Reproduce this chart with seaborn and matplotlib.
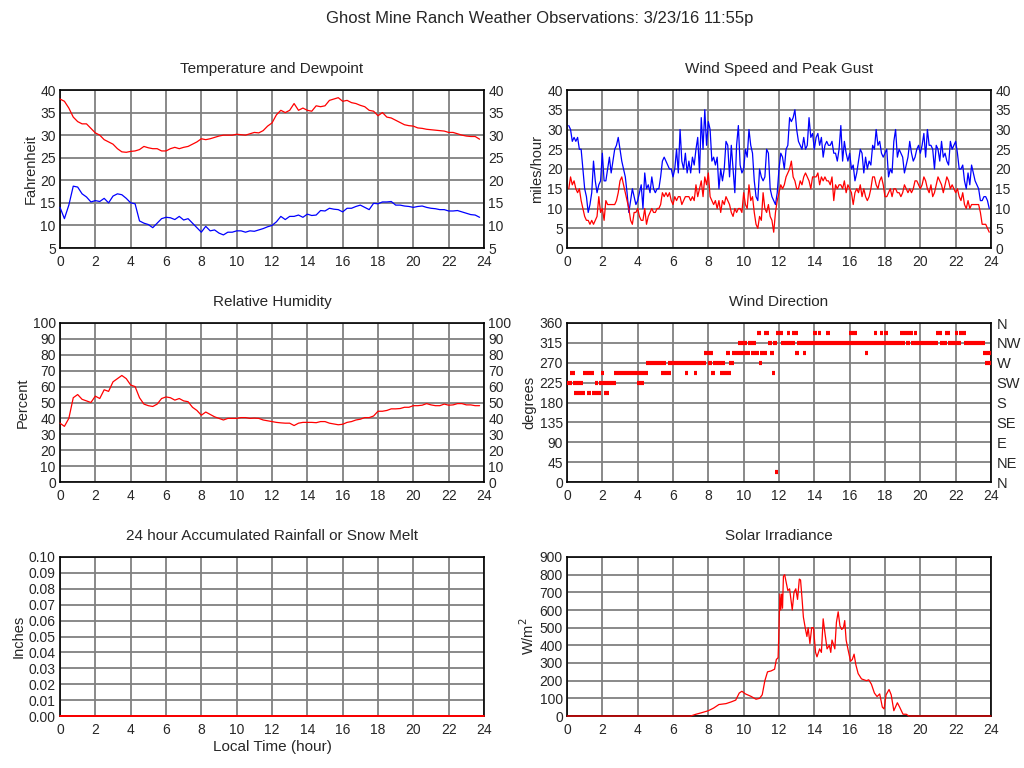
import numpy as np
import matplotlib
matplotlib.use("Agg")
import matplotlib.pyplot as plt
import seaborn as sns


TITLE = "Ghost Mine Ranch Weather Observations: 3/23/16 11:55p"

# quarter-hour samples for temperature, dewpoint and humidity
hours_q = np.arange(0, 24, 0.25)

temp_f = [38, 37.5, 36, 34, 33, 32.5, 32.5, 31.5, 30.5, 30, 29, 28.5,
          28, 27, 26.3, 26.2, 26.4, 26.5, 26.8, 27.5, 27.2, 27, 27, 26.5,
          26.5, 27, 27.3, 27, 27.3, 27.5, 28, 28.5, 29.2, 29, 29.2, 29.5,
          29.8, 30, 30, 30, 30.2, 30.1, 30, 30.3, 30.6, 30.5, 31, 32,
          32.7, 34.5, 35.5, 35, 35.5, 37, 35.5, 36, 35.5, 35.3, 36.5, 36.3,
          36.5, 37.7, 38, 38.3, 37.5, 37.7, 37.2, 37, 36.6, 36.3, 35.5, 35.3,
          34.3, 35, 34, 33.8, 33.3, 32.8, 32.3, 32.1, 32, 31.6, 31.5, 31.3,
          31.2, 31.1, 31, 30.9, 30.6, 30.6, 30.3, 30, 29.8, 29.7, 29.7, 29.1]

dew_f = [14, 11.5, 14.5, 18.7, 18.5, 17, 16.3, 15.2, 15.5, 15.3, 16, 15,
         16.5, 17, 16.8, 16, 15, 14.8, 11, 10.5, 10.2, 9.5, 10.5, 11.5,
         11.8, 11.7, 11.3, 12, 11.2, 11.5, 10.5, 9.5, 8.5, 9.8, 8.8, 9,
         8.3, 7.9, 8.5, 8.5, 8.8, 8.8, 8.5, 8.8, 8.7, 9, 9.3, 9.7,
         10, 10.8, 12, 11.3, 12, 12, 12.3, 11.8, 12.5, 12.2, 12.3, 13.3,
         13.2, 13.8, 13.6, 13.5, 13, 13.8, 13.8, 14.2, 14.5, 14, 13.5, 14.9,
         14.8, 15.2, 15.2, 15.3, 14.5, 14.5, 14.3, 14.2, 14, 14.2, 14.3, 14,
         13.8, 13.7, 13.5, 13.5, 13.2, 13.2, 13.3, 13, 12.7, 12.4, 12.3, 11.8]

humidity = [37, 35, 40, 53, 55, 52, 51, 50, 54, 52.5, 58, 57,
            63, 65, 67, 65, 61, 60, 53, 49, 48, 47.5, 49, 52.5,
            53.5, 53, 51.5, 52.5, 51, 50.5, 47, 45, 42, 44, 42.5, 41,
            40, 39, 40, 40, 40, 40.5, 40.5, 40, 40.2, 40, 39, 38.5,
            38, 37.5, 37.2, 37, 37, 35.5, 37, 37.5, 37.5, 37.5, 37.3, 38,
            38, 37, 36.5, 36, 36.3, 37.5, 38, 39, 39.5, 40.5, 40.5, 41.5,
            44.5, 44.5, 45, 46, 46, 46.2, 47, 47, 48, 48, 48.3, 49.3,
            48.5, 48, 48, 49, 48.3, 48.5, 49.3, 49.3, 48.5, 48.5, 48, 48]

# six-minute samples for wind, 0.1 .. 23.9 h
hours_w = np.round(np.arange(1, 240) * 0.1, 1)

gust_mph = [31, 30, 27, 28, 27, 28, 25, 25, 20, 15,
            13, 9, 11, 14, 22, 17, 14, 16, 17, 24,
            17, 17, 20, 23, 19, 22, 25, 26, 28, 25,
            22, 20, 18, 14, 9, 12, 15, 13, 11, 12,
            14, 16, 10, 19, 15, 16, 14, 18, 15, 14,
            15, 15, 18, 22, 23, 22, 21, 20, 20, 18,
            20, 25, 19, 30, 22, 20, 24, 19, 22, 19,
            23, 21, 25, 28, 19, 33, 25, 35, 26, 32,
            30, 22, 23, 21, 23, 15, 20, 17, 20, 27,
            26, 18, 26, 20, 14, 26, 31, 21, 19, 20,
            25, 23, 30, 26, 24, 17, 13, 12, 20, 18,
            17, 18, 25, 24, 15, 13, 12, 11, 14, 20,
            24, 23, 20, 25, 26, 33, 32, 33, 35, 30,
            27, 26, 25, 28, 25, 26, 33, 28, 29, 25,
            28, 29, 26, 28, 23, 26, 27, 26, 26, 27,
            24, 24, 22, 25, 31, 22, 27, 24, 22, 24,
            20, 21, 17, 19, 22, 25, 24, 19, 23, 20,
            22, 21, 26, 25, 30, 26, 27, 24, 23, 24,
            25, 18, 20, 19, 27, 30, 23, 25, 24, 23,
            19, 21, 23, 27, 24, 22, 23, 25, 26, 24,
            26, 29, 23, 30, 26, 26, 25, 20, 26, 25,
            22, 27, 23, 24, 22, 21, 27, 25, 26, 27,
            24, 20, 20, 21, 17, 15, 19, 16, 21, 19,
            17, 16, 15, 12, 12, 13, 13, 12, 10]

speed_mph = [15, 18, 16, 17, 15, 14, 15, 12, 10, 8,
             7, 7, 6, 7, 6, 7, 8, 13, 9, 10,
             7, 12, 11, 11, 11, 11, 11, 12, 14, 17,
             18, 16, 14, 12, 10, 7, 6, 9, 9, 10,
             8, 7, 7, 10, 6, 8, 9, 10, 9, 9,
             10, 10, 11, 14, 13, 14, 13, 14, 12, 11,
             13, 12, 13, 13, 11, 12, 13, 13, 13, 12,
             13, 12, 16, 13, 15, 17, 13, 18, 16, 19,
             13, 12, 11, 12, 10, 12, 9, 12, 11, 13,
             12, 11, 9, 8, 10, 9, 10, 10, 9, 14,
             11, 10, 16, 12, 13, 9, 6, 5, 8, 7,
             14, 10, 9, 11, 8, 7, 4, 9, 12, 14,
             16, 15, 16, 18, 19, 20, 22, 18, 17, 15,
             15, 17, 16, 18, 19, 18, 17, 15, 18, 18,
             18, 19, 16, 18, 17, 18, 17, 17, 16, 18,
             12, 16, 15, 16, 16, 15, 17, 14, 16, 15,
             14, 11, 14, 15, 14, 16, 13, 15, 13, 12,
             13, 15, 18, 18, 16, 15, 17, 18, 16, 13,
             13, 14, 15, 13, 15, 15, 14, 14, 13, 14,
             16, 15, 14, 15, 14, 15, 17, 17, 16, 15,
             16, 18, 17, 15, 14, 16, 13, 14, 16, 18,
             17, 16, 14, 16, 18, 17, 15, 16, 15, 14,
             15, 13, 12, 14, 11, 10, 12, 10, 11, 11,
             11, 11, 11, 9, 6, 6, 6, 5, 4]

# wind direction runs: direction (deg), start hour, end hour
dir_deg = [202.5, 202.5, 202.5, 202.5,
           225, 225, 225, 225, 225,
           247.5, 247.5, 247.5, 247.5, 247.5, 247.5, 247.5, 247.5, 247.5, 247.5,
           270, 270, 270, 270, 270, 270, 270,
           292.5, 292.5, 292.5, 292.5, 292.5, 292.5, 292.5, 292.5, 292.5, 292.5,
           315, 315, 315, 315, 315, 315, 315, 315, 315, 315, 315, 315,
           337.5, 337.5, 337.5, 337.5, 337.5, 337.5, 337.5, 337.5, 337.5,
           337.5, 337.5, 337.5, 337.5, 337.5, 337.5, 337.5, 337.5, 337.5,
           22.5]
dir_start = [0.4, 1.13, 1.42, 2.09,
             0.0, 0.36, 1.58, 1.81, 3.98,
             0.17, 0.9, 1.92, 2.66, 5.32, 6.68, 7.19, 8.15, 8.66, 11.6,
             4.47, 5.72, 7.98, 8.26, 9.17, 10.87, 23.66,
             7.75, 9.0, 9.34, 10.42, 10.92, 11.5, 12.9, 13.36, 16.85, 23.55,
             9.68, 9.92, 10.25, 11.38, 11.66, 12.11, 13.02, 19.19, 19.47, 21.11, 21.57, 22.47,
             10.75, 11.15, 11.83, 12.45, 12.74, 13.92, 14.2, 14.66, 15.96,
             17.38, 17.72, 17.94, 18.85, 19.64, 20.89, 21.4, 21.96, 22.19,
             11.8]
dir_end = [1.02, 1.36, 1.92, 2.38,
           0.28, 0.9, 1.75, 2.77, 4.36,
           0.45, 1.53, 2.09, 4.58, 5.89, 6.85, 7.36, 8.38, 9.28, 11.77,
           5.6, 7.87, 8.2, 8.94, 9.45, 11.04, 24.0,
           8.26, 9.23, 10.36, 10.87, 11.32, 11.7, 13.13, 13.53, 17.02, 24.0,
           9.88, 10.19, 10.7, 11.6, 11.89, 12.91, 19.13, 19.42, 21.0, 21.51, 22.3, 23.66,
           10.98, 11.43, 12.23, 12.62, 13.08, 14.15, 14.38, 14.89, 16.42,
           17.55, 17.89, 18.17, 19.58, 19.81, 21.23, 21.68, 22.13, 22.58,
           11.92]
compass = ["N", "NE", "E", "SE", "S", "SW", "W", "NW", "N"]

rain_hours = [0, 24]
rain_in = [0.0, 0.0]

solar_hours = [0, 7.0, 7.3, 7.6, 8.0, 8.3, 8.6, 9.0, 9.3, 9.55, 9.75, 9.9, 10.1,
               10.4, 10.7, 10.9, 11.05, 11.2, 11.35, 11.55, 11.75, 11.85, 11.95,
               12.0, 12.05, 12.1, 12.15, 12.2, 12.25, 12.32, 12.4, 12.5, 12.6,
               12.7, 12.75, 12.85, 12.95, 13.05, 13.15, 13.22, 13.3, 13.38, 13.5,
               13.58, 13.65, 13.75, 13.85, 13.95, 14.07, 14.15, 14.3, 14.4, 14.5,
               14.6, 14.72, 14.85, 14.93, 15.0, 15.1, 15.16, 15.25, 15.35, 15.45,
               15.55, 15.65, 15.72, 15.8, 15.9, 16.05, 16.15, 16.25, 16.35, 16.48,
               16.67, 16.95, 17.08, 17.23, 17.4, 17.55, 17.7, 17.85, 17.95, 18.06,
               18.23, 18.35, 18.5, 18.7, 18.83, 19.02, 19.2, 19.35, 24]
solar_wm2 = [0, 0, 10, 18, 30, 45, 65, 70, 80, 90, 130, 140, 125,
             112, 95, 100, 120, 200, 250, 255, 265, 320, 330,
             500, 690, 600, 690, 610, 790, 800, 760, 710, 720,
             640, 600, 700, 720, 660, 775, 770, 670, 560, 490,
             450, 500, 410, 500, 500, 360, 335, 380, 360, 550,
             470, 380, 400, 360, 430, 400, 380, 530, 590, 510,
             490, 500, 540, 430, 380, 310, 320, 350, 290, 240,
             210, 200, 205, 180, 130, 110, 125, 50, 40, 120,
             150, 120, 30, 75, 50, 10, 10, 0, 0]


sns.set_style("white")
plt.rcParams["font.family"] = ["Liberation Sans", "DejaVu Sans"]
plt.rcParams["font.size"] = 10

fig = plt.figure(figsize=(10.24, 7.68), dpi=100)
fig.text(0.527, 0.976, TITLE, ha="center", va="center", fontsize=12)

W, H = 1024, 768
def panel(left, top, right, bottom):
    return fig.add_axes([left / W, 1 - bottom / H, (right - left) / W, (bottom - top) / H])

def style(ax, ylim, yticks, title, ylabel, right_labels=True, fmt=None):
    ax.set_xlim(0, 24)
    ax.set_xticks(range(0, 25, 2))
    ax.set_ylim(*ylim)
    ax.set_yticks(yticks)
    if fmt:
        ax.set_yticklabels([fmt.format(v) for v in yticks])
    ax.grid(True, color="#808080", lw=1.3)
    ax.set_axisbelow(True)
    for s in ax.spines.values():
        s.set_color("black")
        s.set_linewidth(1.2)
    ax.tick_params(axis="y", length=0, pad=3, labelsize=10, labelright=right_labels)
    ax.tick_params(axis="x", length=0, pad=5, labelsize=10)
    ax.set_title(title, fontsize=11, pad=12)
    ax.set_ylabel(ylabel, fontsize=10.5, labelpad=2)
    ax.set_xlabel("")
    for ln in ax.get_lines():
        ln.set_clip_on(False)
        ln.set_zorder(4)

RED, BLUE = "#ff0000", "#0000ff"

# temperature and dewpoint
ax1 = panel(60, 90, 484, 248)
sns.lineplot(x=hours_q, y=temp_f, ax=ax1, color=RED, lw=0.9)
sns.lineplot(x=hours_q, y=dew_f, ax=ax1, color=BLUE, lw=0.9)
style(ax1, (5, 40), range(5, 41, 5), "Temperature and Dewpoint", "Fahrenheit")

# wind speed and gust
ax2 = panel(567, 90, 991, 248)
sns.lineplot(x=hours_w, y=gust_mph, ax=ax2, color=BLUE, lw=0.9)
sns.lineplot(x=hours_w, y=speed_mph, ax=ax2, color=RED, lw=0.9)
style(ax2, (0, 40), range(0, 41, 5), "Wind Speed and Peak Gust", "miles/hour")

# relative humidity
ax3 = panel(60, 323, 484, 482)
sns.lineplot(x=hours_q, y=humidity, ax=ax3, color=RED, lw=0.9)
style(ax3, (0, 100), range(0, 101, 10), "Relative Humidity", "Percent")

# wind direction
ax4 = panel(567, 323, 991, 482)
ax4.hlines(dir_deg, dir_start, dir_end, color=RED, lw=3, capstyle="butt", zorder=3)
style(ax4, (0, 360), range(0, 361, 45), "Wind Direction", "degrees", right_labels=False)
ax4r = ax4.twinx()
ax4r.set_ylim(0, 360)
ax4r.set_yticks(range(0, 361, 45))
ax4r.set_yticklabels(compass)
ax4r.tick_params(length=0, pad=4, labelsize=10.5)
ax4r.grid(False)
for s in ax4r.spines.values():
    s.set_visible(False)

# rainfall
ax5 = panel(60, 557, 484, 716)
sns.lineplot(x=rain_hours, y=rain_in, ax=ax5, color=RED, lw=1.4)
style(ax5, (0, 0.1), np.round(np.arange(0, 0.101, 0.01), 2),
      "24 hour Accumulated Rainfall or Snow Melt", "Inches", right_labels=False, fmt="{:.2f}")
ax5.set_xlabel("Local Time (hour)", fontsize=11, labelpad=2)

# solar irradiance
ax6 = panel(567, 557, 991, 716)
sns.lineplot(x=solar_hours, y=solar_wm2, ax=ax6, color=RED, lw=0.9)
style(ax6, (0, 900), range(0, 901, 100), "Solar Irradiance", "W/m$^2$", right_labels=False)

fig.savefig("out.png", dpi=100)
